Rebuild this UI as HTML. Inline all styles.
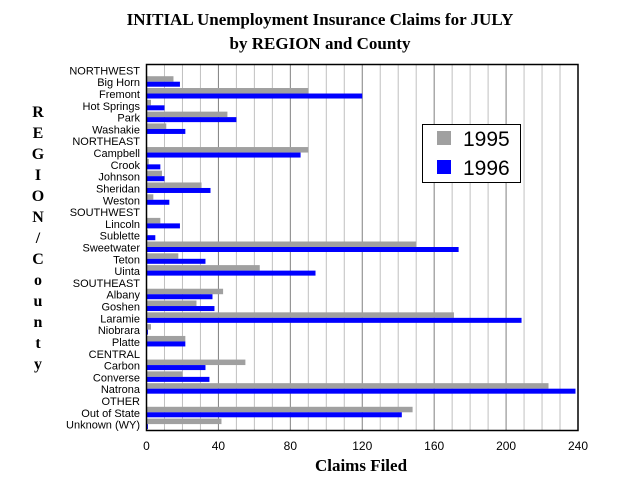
<!DOCTYPE html>
<html><head><meta charset="utf-8"><style>
body{margin:0;background:#fff;}
svg{display:block;}
</style></head><body>
<svg id="chart" width="640" height="480" xmlns="http://www.w3.org/2000/svg" font-family="Liberation Sans, sans-serif">
<text x="320" y="25" text-anchor="middle" font-family="Liberation Serif, serif" font-weight="bold" font-size="17">INITIAL Unemployment Insurance Claims for JULY</text>
<text x="320" y="49" text-anchor="middle" font-family="Liberation Serif, serif" font-weight="bold" font-size="17">by REGION and County</text>
<g id="grid"></g>
<g id="bars"></g>
<g id="labels"></g>
<g id="xticks"></g>
<rect x="146.5" y="64.5" width="431.5" height="366" fill="none" stroke="#000" stroke-width="1.5"/>
<g id="ytitle" font-family="Liberation Serif, serif" font-weight="bold" font-size="16" text-anchor="middle"></g>
<text x="361" y="471" text-anchor="middle" font-family="Liberation Serif, serif" font-weight="bold" font-size="17">Claims Filed</text>
<g>
<rect x="422.5" y="124.5" width="98" height="58" fill="#fff" stroke="#000" stroke-width="1"/>
<rect x="437" y="131" width="14" height="14" fill="#a0a0a0"/>
<text x="463" y="146" font-size="21">1995</text>
<rect x="437" y="160" width="14" height="14" fill="#0000ff"/>
<text x="463" y="175" font-size="21">1996</text>
</g>
</svg>
<script>
const categories=["NORTHWEST","Big Horn","Fremont","Hot Springs","Park","Washakie","NORTHEAST","Campbell","Crook","Johnson","Sheridan","Weston","SOUTHWEST","Lincoln","Sublette","Sweetwater","Teton","Uinta","SOUTHEAST","Albany","Goshen","Laramie","Niobrara","Platte","CENTRAL","Carbon","Converse","Natrona","OTHER","Out of State","Unknown (WY)"];
const values1995=[0,15,90,2.5,45,11,0,90,1.3,8.6,30.6,3.8,0,7.7,0.8,150,17.7,63,0,42.6,27.8,171,2.5,21.6,0,55,20,223.6,0,148,41.7];
const values1996=[0,18.6,120,10,50,21.6,0,85.7,7.7,10,35.6,12.7,0,18.6,4.9,173.6,32.8,94,0,36.7,37.8,208.6,0.8,21.6,0,32.8,35,238.6,0,142,0.8];
const xTicks=[0,40,80,120,160,200,240];
const minorTicks=[10,20,30,50,60,70,90,100,110,130,140,150,170,180,190,210,220,230];
const yTitle="REGION/County";
</script>
<script>
const NS="http://www.w3.org/2000/svg";
const X0=146.5,X1=578,XMAX=240,TOP=64.5,BOT=430.5;
const rowH=(BOT-TOP)/categories.length;
function xs(v){return X0+(v/XMAX)*(X1-X0);}
function rc(i){return TOP+rowH*(i+0.5);}
function mk(tag,attrs,parent){const e=document.createElementNS(NS,tag);for(const k in attrs)e.setAttribute(k,attrs[k]);parent.appendChild(e);return e;}
const grid=document.getElementById('grid');
minorTicks.forEach(t=>{const l=mk('line',{x1:xs(t),x2:xs(t),y1:TOP,y2:BOT,stroke:'#c0c0c0','stroke-width':1},grid);

});
const xt=document.getElementById('xticks');
xTicks.forEach(t=>{if(t>0&&t<XMAX){const l=mk('line',{x1:xs(t),x2:xs(t),y1:TOP,y2:BOT,stroke:'#808080','stroke-width':1},grid);

}
const tx=mk('text',{x:xs(t),y:450,'text-anchor':'middle','font-size':12},xt);tx.textContent=t;

});
const bars=document.getElementById('bars'),labels=document.getElementById('labels');
categories.forEach((c,i)=>{const cy=rc(i);
const lb=mk('text',{x:140,y:cy+4,'text-anchor':'end','font-size':11},labels);lb.textContent=c;


if(values1995[i]>0){const b=mk('rect',{x:X0,y:cy-6,width:xs(values1995[i])-X0,height:5.5,fill:'#a0a0a0'},bars);

}
if(values1996[i]>0){const b=mk('rect',{x:X0,y:cy-0.5,width:xs(values1996[i])-X0,height:5,fill:'#0000ff'},bars);

}
});
const yt=document.getElementById('ytitle');
const chars=yTitle.split('');
chars.forEach((ch,i)=>{const t=mk('text',{x:38,y:117+i*21},yt);t.textContent=ch;

});
</script>
</body></html>
